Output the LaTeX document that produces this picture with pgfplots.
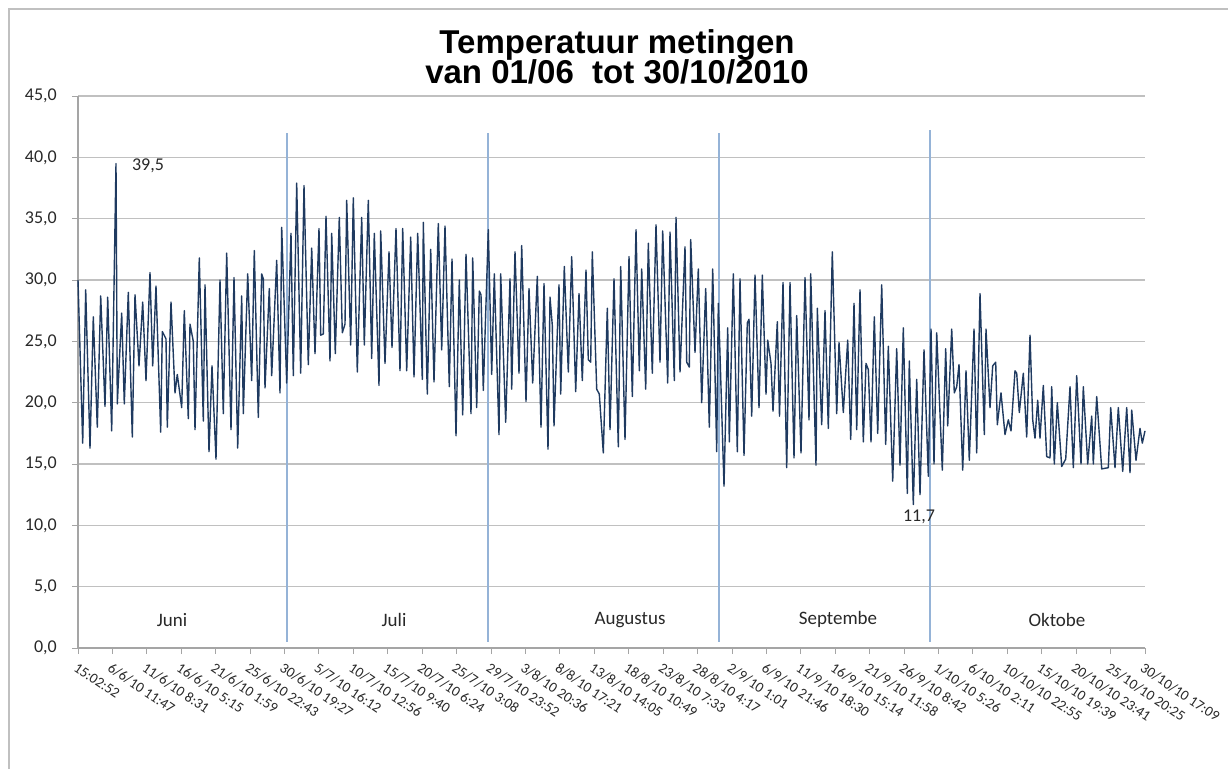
\documentclass[border=0pt]{standalone}
\usepackage{pgfplots}
\pgfplotsset{compat=1.18}
\usepackage{fontspec}
\setmainfont{Carlito}
\newfontfamily\titlefont{Liberation Sans}
\definecolor{serie}{RGB}{31,58,96}
\definecolor{sepc}{RGB}{149,179,215}
\definecolor{gridc}{RGB}{192,192,192}
\definecolor{axc}{RGB}{165,165,165}
\definecolor{txt}{RGB}{40,40,40}
\begin{document}
\begin{tikzpicture}[x=1pt,y=1pt]
\path[use as bounding box] (0,0) rectangle (1228,769);
\draw[gridc, line width=2pt] (9,0) -- (9,760) -- (1228,760);
\node[font=\titlefont\bfseries\fontsize{33}{33}\selectfont, anchor=base, inner sep=0pt] at (617,715) {Temperatuur metingen};
\node[font=\titlefont\bfseries\fontsize{33}{33}\selectfont, anchor=base, inner sep=0pt] at (617,685) {van 01/06\ \ tot 30/10/2010};
\begin{axis}[
  at={(78pt,121pt)}, anchor=south west, scale only axis,
  width=1067pt, height=552pt,
  xmin=0, xmax=1067, ymin=0, ymax=45,
  axis x line*=bottom, axis y line*=left,
  axis line style={axc, line width=1.6pt, -},
  ymajorgrids, grid style={gridc, line width=1.6pt},
  tick align=outside,
  major tick length=6pt, minor tick length=5pt,
  tick style={axc, line width=0.9pt},
  ytick={0,5,...,45},
  xtick={0,34.42,68.84,103.26,137.68,172.10,206.52,240.94,275.35,309.77,344.19,378.61,413.03,447.45,481.87,516.29,550.71,585.13,619.55,653.97,688.39,722.81,757.23,791.65,826.06,860.48,894.90,929.32,963.74,998.16,1032.58,1067},
  xticklabels={15:02:52, 6/6/10 11:47, 11/6/10 8:31, 16/6/10 5:15, 21/6/10 1:59, 25/6/10 22:43, 30/6/10 19:27, 5/7/10 16:12, 10/7/10 12:56, 15/7/10 9:40, 20/7/10 6:24, 25/7/10 3:08, 29/7/10 23:52, 3/8/10 20:36, 8/8/10 17:21, 13/8/10 14:05, 18/8/10 10:49, 23/8/10 7:33, 28/8/10 4:17, 2/9/10 1:01, 6/9/10 21:46, 11/9/10 18:30, 16/9/10 15:14, 21/9/10 11:58, 26/9/10 8:42, 1/10/10 5:26, 6/10/10 2:11, 10/10/10 22:55, 15/10/10 19:39, 20/10/10 23:41, 25/10/10 20:25, 30/10/10 17:09},
  minor x tick num=9,
  xticklabel style={font=\fontsize{14.5}{14.5}\selectfont, text=txt, inner sep=0pt, xshift=0pt, yshift=-8pt, rotate=-34, anchor=north west},
  yticklabel style={font=\fontsize{18}{18}\selectfont, text=txt, inner sep=0pt, anchor=east, xshift=-15pt,
    /pgf/number format/fixed, /pgf/number format/fixed zerofill,
    /pgf/number format/precision=1, /pgf/number format/use comma,
    /pgf/number format/assume math mode=true},
  clip=false,
]
\addplot[sepc, line width=2pt, forget plot] coordinates {(209,0.5) (209,42)};
\addplot[sepc, line width=2pt, forget plot] coordinates {(410,0.5) (410,42)};
\addplot[sepc, line width=2pt, forget plot] coordinates {(641,0.5) (641,42)};
\addplot[sepc, line width=2pt, forget plot] coordinates {(852,0.5) (852,42.2)};
\addplot[serie, line width=1.4pt, line join=round] table {
x y
0 30.0
4.7 16.7
7.7 29.2
12.0 16.3
15.3 27.0
19.3 18.0
22.7 28.7
27.0 19.7
29.7 28.6
33.7 17.7
38.0 39.5
39.3 19.9
43.7 27.3
46.3 19.9
50.3 29.0
54.3 17.2
57.0 28.8
61.0 23.0
64.7 28.2
68.0 21.8
72.0 30.6
74.7 23.0
78.0 29.5
82.7 17.6
84.3 25.8
88.0 25.2
89.3 18.0
93.0 28.2
97.0 20.8
99.3 22.3
103.7 19.6
106.3 27.5
110.3 18.7
112.0 26.4
115.3 25.0
117.0 17.8
121.3 31.8
125.3 18.5
127.0 29.6
131.0 16.0
134.0 23.0
138.0 15.4
142.0 30.0
145.3 19.1
148.7 32.2
153.0 17.8
156.0 30.2
159.7 16.3
163.7 28.7
165.3 19.1
169.7 30.5
173.7 21.8
176.3 32.4
180.3 18.8
183.7 30.5
185.3 30.1
187.0 21.2
191.3 29.3
193.7 22.2
198.7 31.6
202.0 20.8
203.7 34.3
208.7 21.6
213.0 33.8
215.3 22.2
218.7 37.9
222.7 22.4
226.0 37.7
230.3 23.1
233.7 32.6
237.0 24.0
241.0 34.2
242.7 25.5
245.3 25.6
248.0 35.2
252.0 23.4
253.7 33.8
257.3 24.0
261.3 35.1
264.3 25.7
267.0 26.4
268.7 36.5
272.7 24.7
275.3 36.7
279.3 22.5
283.7 35.1
286.3 24.7
290.3 36.5
293.7 23.6
296.3 33.8
301.0 21.4
302.7 34.0
307.0 23.2
311.0 32.3
314.0 24.5
318.0 34.2
322.0 22.6
324.7 34.2
328.7 22.6
332.7 33.5
336.0 22.1
339.7 33.8
344.3 21.9
345.3 34.7
349.3 20.7
352.7 32.5
356.0 21.7
360.3 34.6
363.7 24.3
367.0 34.4
371.3 21.3
374.0 31.7
378.0 17.3
381.3 30.0
384.7 19.0
388.0 32.1
393.0 19.1
394.7 31.8
398.7 19.6
401.3 29.1
403.0 28.8
405.3 21.0
410.3 34.1
413.7 22.3
416.3 30.5
421.0 17.4
422.7 30.5
427.7 18.4
432.0 30.1
433.7 21.1
437.0 32.3
441.0 22.4
443.7 32.8
448.0 20.1
451.0 29.3
454.7 21.6
459.3 30.3
463.0 18.0
466.0 29.7
470.0 16.2
472.0 28.6
474.3 26.3
476.0 18.1
481.0 29.6
482.7 20.7
486.3 31.1
490.3 22.5
493.7 31.9
497.7 20.9
501.0 28.9
504.3 21.8
508.0 30.8
510.3 23.5
512.7 23.3
514.3 32.3
518.7 21.1
521.3 20.7
525.3 15.9
529.3 27.7
532.0 17.8
536.0 30.1
540.3 16.4
542.7 31.1
547.0 17.0
551.0 31.9
554.3 20.5
558.0 34.1
561.3 22.6
563.7 30.9
567.7 21.1
570.3 33.0
574.3 22.4
578.0 34.5
582.0 23.3
584.7 34.0
589.7 21.6
592.0 33.9
596.3 21.8
598.0 35.1
602.0 22.5
607.0 32.7
608.7 23.3
611.3 22.9
612.7 33.3
617.0 24.1
620.3 30.9
623.7 20.0
627.7 29.3
631.3 18.0
634.7 30.9
638.7 16.0
640.3 28.1
641.3 25.8
646.0 13.2
649.7 26.1
651.3 16.8
655.3 30.5
659.3 16.0
662.0 30.1
666.0 15.7
669.3 26.5
671.0 26.8
673.7 18.9
677.0 30.4
681.0 19.6
684.3 30.4
688.0 20.7
689.7 25.1
693.0 23.2
695.0 19.3
699.3 26.6
701.5 18.9
705.0 29.8
708.7 14.7
712.0 29.8
716.0 15.5
718.7 27.1
723.0 15.9
727.0 30.2
731.0 18.6
732.7 30.5
738.0 14.9
739.3 27.7
743.7 18.2
747.0 27.5
750.3 17.9
754.3 32.3
758.7 19.1
761.0 24.9
765.3 19.2
769.7 25.1
772.7 17.0
776.0 28.1
778.7 17.8
782.0 29.2
785.3 16.8
788.0 23.2
790.3 22.7
793.0 16.8
796.3 27.0
799.7 17.5
803.7 29.6
807.7 16.6
810.3 24.6
814.7 13.6
818.7 24.4
822.0 14.9
825.3 26.1
829.3 12.6
831.3 23.4
835.3 11.7
838.7 21.9
842.0 12.5
846.0 24.3
850.3 14.0
853.0 26.0
856.0 15.0
858.7 25.7
864.3 14.5
867.7 24.4
869.7 18.1
873.7 26.0
876.3 20.8
878.7 21.3
881.0 23.1
884.7 14.5
888.0 22.6
891.3 15.3
896.0 26.0
898.7 15.9
902.0 28.9
906.3 17.4
908.0 26.0
912.0 19.6
914.7 23.0
917.7 23.3
919.3 18.2
923.0 20.8
927.0 17.4
930.3 18.6
933.0 17.7
937.0 22.6
938.7 22.4
941.3 19.2
945.3 22.4
948.7 17.2
952.0 25.5
954.7 18.6
957.0 17.1
959.7 20.2
962.0 17.1
965.3 21.4
968.7 15.6
972.0 15.5
973.7 21.3
976.3 15.0
979.3 20.0
983.7 14.8
987.7 15.4
992.0 21.3
995.3 14.7
998.7 22.2
1003.0 15.0
1005.3 21.3
1009.7 15.0
1013.7 18.9
1015.3 15.0
1018.7 20.5
1023.7 14.6
1030.3 14.7
1032.7 19.6
1037.0 14.7
1040.3 19.6
1044.7 14.4
1048.7 19.6
1052.0 14.3
1053.7 19.4
1058.0 15.3
1062.0 17.9
1064.3 16.7
1067.0 17.7
};
\node[font=\fontsize{18}{18}\selectfont, text=txt] at (axis cs:70,39.3) {39,5};
\node[font=\fontsize{18}{18}\selectfont, text=txt] at (axis cs:841,10.7) {11,7};
\node[font=\fontsize{19}{19}\selectfont, text=txt] at (axis cs:94,2.3) {Juni};
\node[font=\fontsize{19}{19}\selectfont, text=txt] at (axis cs:316,2.3) {Juli};
\node[font=\fontsize{19}{19}\selectfont, text=txt] at (axis cs:552,2.3) {Augustus};
\node[font=\fontsize{19}{19}\selectfont, text=txt] at (axis cs:760,2.3) {Septembe};
\node[font=\fontsize{19}{19}\selectfont, text=txt] at (axis cs:979,2.3) {Oktobe};
\end{axis}
\end{tikzpicture}
\end{document}
